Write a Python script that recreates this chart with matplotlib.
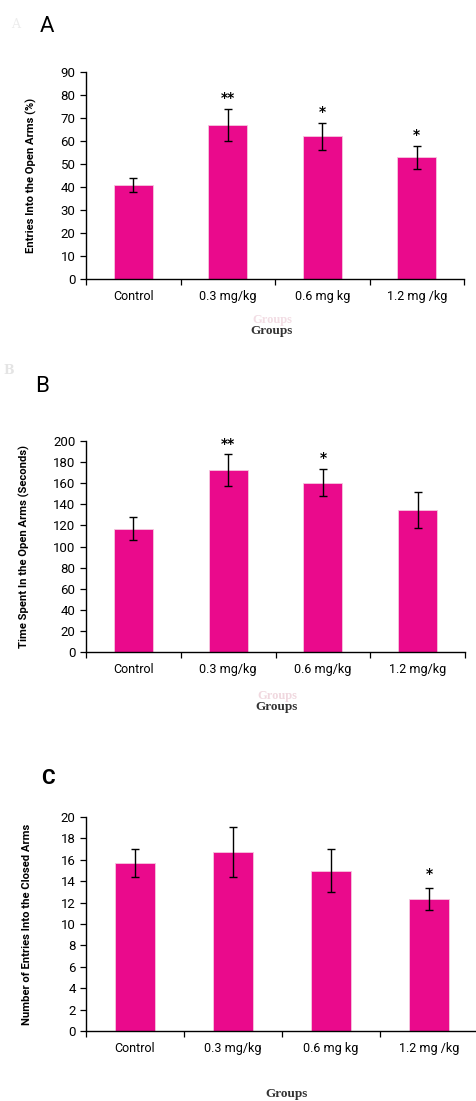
import matplotlib
matplotlib.use("Agg")
import matplotlib.pyplot as plt
import numpy as np

plt.rcParams["font.family"] = ["Roboto", "DejaVu Sans"]

# data
groups_a = ["Control", "0.3 mg/kg", "0.6 mg kg", "1.2 mg /kg"]
groups_b = ["Control", "0.3 mg/kg", "0.6 mg/kg", "1.2 mg/kg"]
groups_c = ["Control", "0.3 mg/kg", "0.6 mg kg", "1.2 mg /kg"]

entries_open = [41, 67, 62, 53]
entries_open_err = [3, 7, 6, 5]
stars_a = ["", "**", "*", "*"]

time_open = [117, 172.5, 160.5, 135]
time_open_err = [11, 15, 13, 17]
stars_b = ["", "**", "*", ""]

entries_closed = [15.7, 16.7, 15.0, 12.35]
entries_closed_err = [1.35, 2.35, 2.0, 1.0]
stars_c = ["", "", "", "*"]

BAR = "#EA0A8C"
W, H = 476, 1101

fig = plt.figure(figsize=(W / 100, H / 100), dpi=100)


def px_axes(left, top, right, bottom):
    return fig.add_axes([left / W, 1 - bottom / H, (right - left) / W, (bottom - top) / H])


def panel(ax, labels, vals, errs, stars, ymax, ystep, ylabel, width, star_off):
    x = np.arange(len(vals))
    ax.bar(x, vals, width=width, color=BAR, edgecolor="#f6c6df", linewidth=0.6, zorder=2)
    ax.errorbar(x, vals, yerr=errs, fmt="none", ecolor="black", elinewidth=1,
                capsize=3, capthick=1, zorder=3)
    for xi, v, e, s in zip(x, vals, errs, stars):
        if s:
            ax.text(xi, v + e + star_off, s, ha="center", va="center",
                    fontsize=10, fontweight="bold", family="DejaVu Sans")
    ax.set_xlim(-0.5, len(vals) - 0.5)
    ax.set_ylim(0, ymax)
    ax.set_yticks(np.arange(0, ymax + 0.1, ystep))
    ax.set_xticks(x)
    ax.set_xticklabels(labels, fontsize=9)
    ax.set_xticks(np.arange(-0.5, len(vals)), minor=True)
    ax.tick_params(axis="x", which="major", length=0, pad=8)
    ax.tick_params(axis="x", which="minor", length=4, width=0.9)
    ax.tick_params(axis="y", labelsize=9.5, length=4, width=0.9)
    for sp in ["top", "right"]:
        ax.spines[sp].set_visible(False)
    for sp in ["left", "bottom"]:
        ax.spines[sp].set_linewidth(1.0)
    ax.set_ylabel(ylabel, fontsize=8.1, fontweight="bold")


ax_a = px_axes(86, 72, 464, 279)
panel(ax_a, groups_a, entries_open, entries_open_err, stars_a, 90, 10,
      "Entries Into the Open Arms (%)", 0.41, 4.5)

ax_b = px_axes(86, 441, 465, 652)
panel(ax_b, groups_b, time_open, time_open_err, stars_b, 200, 20,
      "Time Spent In the Open Arms (Seconds)", 0.41, 10)

ax_c = px_axes(86, 817, 478, 1031)
panel(ax_c, groups_c, entries_closed, entries_closed_err, stars_c, 20, 2,
      "Number of Entries Into the Closed Arms", 0.40, 1.3)

for ax, xp in [(ax_a, 37), (ax_b, 30), (ax_c, 32)]:
    ax.yaxis.set_label_coords((xp - 86) / (ax.get_position().width * W), 0.5)


def ftext(x, y, s, **kw):
    fig.text(x / W, 1 - y / H, s, ha="center", va="center", **kw)


# panel letters
ftext(16, 24, "A", fontsize=9, color="#ececec", family="DejaVu Serif")
ftext(47, 26, "A", fontsize=16)
ftext(9, 371, "B", fontsize=9, color="#e4e4e4", family="DejaVu Serif", fontweight="bold")
ftext(42, 387, "B", fontsize=16)
ftext(48, 778, "C", fontsize=15, fontweight="bold")

# axis titles
ftext(272, 320, "Groups", fontsize=9, color="#f2dde4", family="Liberation Serif", fontweight="bold")
ftext(272, 331, "Groups", fontsize=9.5, color="#333333", family="Liberation Serif", fontweight="bold")
ftext(277, 696, "Groups", fontsize=9, color="#f0d8df", family="Liberation Serif", fontweight="bold")
ftext(277, 707, "Groups", fontsize=9.5, color="#333333", family="Liberation Serif", fontweight="bold")
ftext(287, 1094, "Groups", fontsize=9.5, color="#333333", family="Liberation Serif", fontweight="bold")

fig.savefig("out.png", dpi=100)
